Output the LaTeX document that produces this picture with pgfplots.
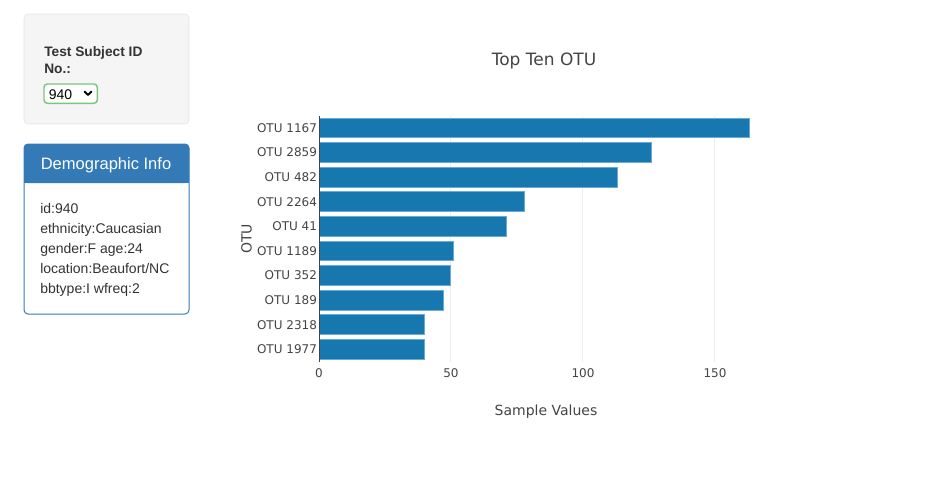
\documentclass[border=0pt]{standalone}
\usepackage{fontspec}
\setmainfont{DejaVu Sans}
\newfontfamily\panelfont{Liberation Sans}
\usepackage{pgfplots}
\pgfplotsset{compat=1.18}

\definecolor{barfill}{HTML}{1778B0}
\definecolor{baredge}{HTML}{6AAAD6}
\definecolor{plotgray}{HTML}{444444}
\definecolor{gridgray}{HTML}{EEEEEE}
\definecolor{wellbg}{HTML}{F5F5F5}
\definecolor{wellborder}{HTML}{E3E3E3}
\definecolor{panelblue}{HTML}{337AB7}
\definecolor{textdark}{HTML}{333333}
\definecolor{selgreen}{HTML}{7CC67C}

\begin{document}
\begin{tikzpicture}[x=0.75pt,y=-0.75pt]
% selector panel
\draw[wellborder, fill=wellbg, rounded corners=3pt] (24,14) rectangle (189,124);
\node[anchor=base west, inner sep=0, text=textdark, font=\panelfont\bfseries\fontsize{10.3}{12}\selectfont] at (44,56.7) {Test Subject ID};
\node[anchor=base west, inner sep=0, text=textdark, font=\panelfont\bfseries\fontsize{10.3}{12}\selectfont] at (44,73.3) {No.:};
\draw[selgreen, fill=white, line width=1.1pt, rounded corners=2.5pt] (44,84) rectangle (97.3,103.3);
\node[anchor=base west, inner sep=0, text=black, font=\panelfont\fontsize{10.5}{12}\selectfont] at (48.5,99.3) {940};
\draw[black, line width=1.5pt, line cap=round, line join=round] (84.5,91.5) -- (88,95) -- (91.5,91.5);

% demographic panel
\fill[white, rounded corners=3pt] (24,144) rectangle (189,314);
\fill[panelblue, rounded corners=3pt] (24,144) rectangle (189,183);
\fill[panelblue] (24,170) rectangle (189,183);
\draw[panelblue, line width=0.75pt, rounded corners=3pt] (24,144) rectangle (189,314);
\node[anchor=base west, inner sep=0, text=white, font=\panelfont\fontsize{12.4}{14}\selectfont] at (40.5,169.3) {Demographic Info};
\foreach \t [count=\i] in {id:940, ethnicity:Caucasian, gender:F age:24, location:Beaufort/NC, bbtype:I wfreq:2}
  \node[anchor=base west, inner sep=0, text=textdark, font=\panelfont\fontsize{10.5}{12}\selectfont] at (40,193.3+20*\i) {\t};

% chart
\begin{axis}[
  at={(239.25pt,-271.275pt)}, anchor=south west,
  scale only axis, width=339.75pt, height=184.5pt,
  xbar, bar width=0.8,
  xmin=0, xmax=171.6, ymin=-0.5, ymax=9.5,
  xtick={0,50,100,150}, ytick={0,...,9},
  yticklabels={OTU 1977,OTU 2318,OTU 189,OTU 352,OTU 1189,OTU 41,OTU 2264,OTU 482,OTU 2859,OTU 1167},
  axis line style={draw=none}, tick style={draw=none}, major tick length=0pt,
  xmajorgrids, grid style={gridgray, line width=0.75pt},
  tick label style={font=\fontsize{9}{11}\selectfont, text=plotgray},
  xticklabel style={yshift=-2pt},
  yticklabel style={xshift=2pt},
  /pgf/number format/assume math mode=true,
  clip=false,
]
\addplot[fill=barfill, draw=baredge, line width=0.75pt] coordinates {
  (40,0) (40,1) (47,2) (50,3) (51,4) (71,5) (78,6) (113,7) (126,8) (163,9)
};
\draw[plotgray, line width=0.75pt] (axis cs:0,-0.5) -- (axis cs:0,9.5);
\end{axis}

\node[anchor=base, inner sep=0, text=plotgray, font=\fontsize{12.75}{15}\selectfont] at (544,66) {Top Ten OTU};
\node[anchor=base, inner sep=0, text=plotgray, font=\fontsize{10.5}{12}\selectfont] at (546,415.5) {Sample Values};
\node[anchor=base, rotate=90, inner sep=0, text=plotgray, font=\fontsize{10.5}{12}\selectfont] at (251.7,238.7) {OTU};

\pgfresetboundingbox
\path[use as bounding box] (0,0) rectangle (943,478);
\end{tikzpicture}
\end{document}
